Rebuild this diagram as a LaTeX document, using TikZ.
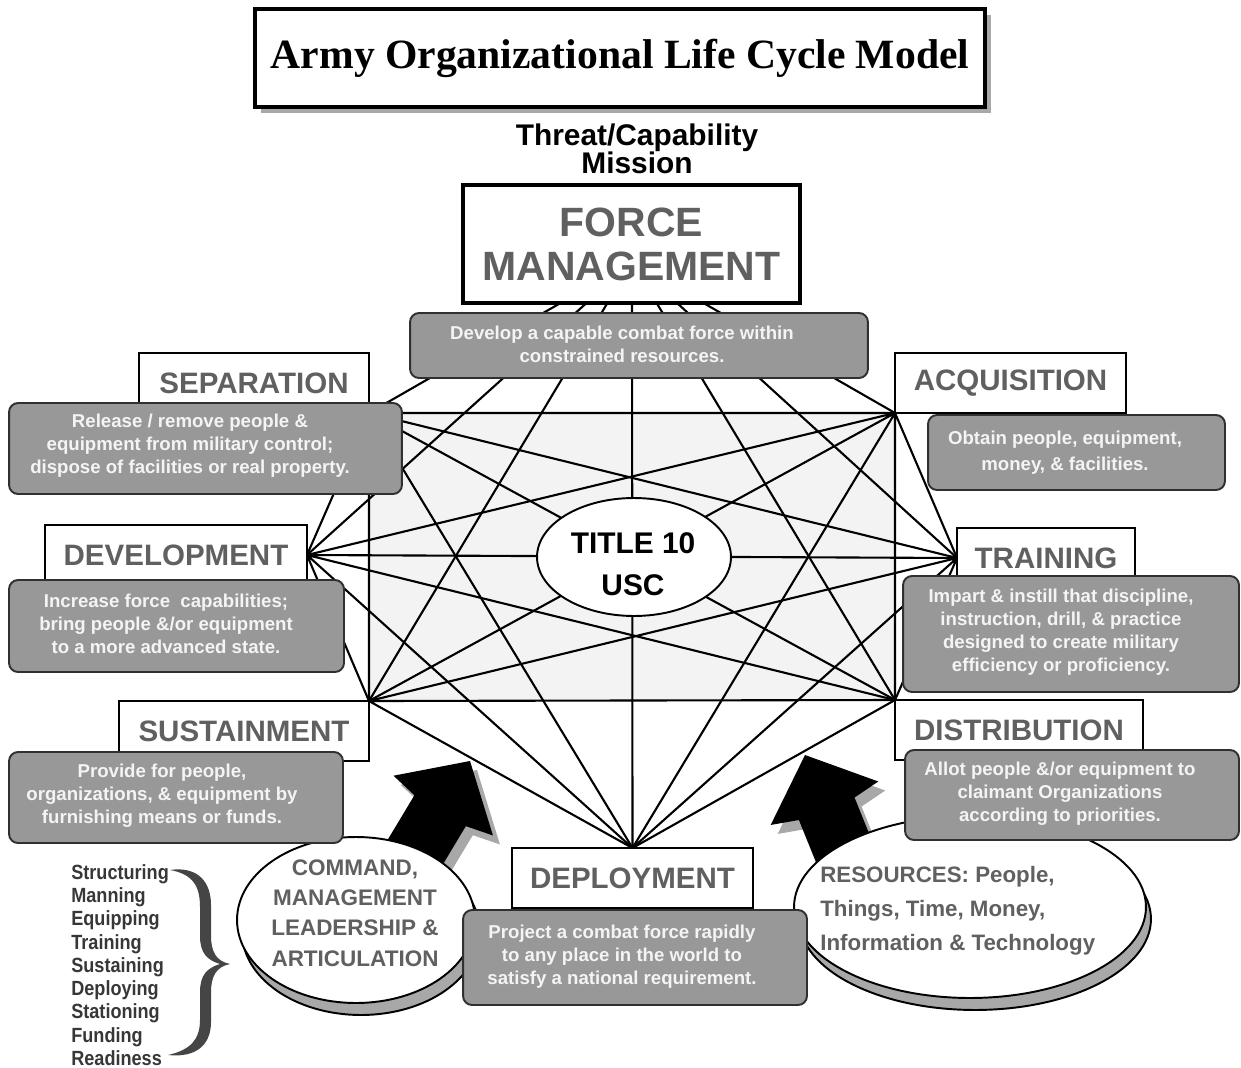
\documentclass[tikz,border=0pt]{standalone}
\usepackage{fontspec}
\setmainfont{Liberation Sans}
\newfontfamily\serifbold{Liberation Serif}
\newfontfamily\narrowsans[FakeStretch=0.88]{Liberation Sans}
\usepackage{tikz}
\usetikzlibrary{shapes.geometric,shadows}
\pgfdeclarelayer{background}
\pgfdeclarelayer{foreground}
\pgfsetlayers{background,main,foreground}

\definecolor{panelgray}{HTML}{989898}
\definecolor{labelgray}{HTML}{606060}
\definecolor{fieldgray}{HTML}{F3F3F3}
\definecolor{shadegray}{HTML}{A8A8A8}
\definecolor{bracegray}{HTML}{454545}
\definecolor{edgegray}{HTML}{303030}
\definecolor{notewhite}{HTML}{F4F4F4}

\tikzset{
  stagebox/.style={draw, line width=1.1pt, fill=white, text=labelgray, inner sep=0pt, outer sep=0pt,
    minimum height=1.2cm, font=\fontsize{16.8}{20}\selectfont\bfseries},
  notebox/.style={draw=edgegray, line width=1.1pt, fill=panelgray, rounded corners=0.18cm,
    inner sep=0pt, outer sep=0pt},
  notetext/.style={text=notewhite, align=center, inner sep=0pt,
    font=\fontsize{10.6}{13.1}\selectfont\bfseries},
  link/.style={line width=1.2pt},
  bubble/.style={ellipse, draw, line width=1.1pt, fill=white, inner sep=0pt,
    general shadow={shadow xshift=0.1cm, shadow yshift=-0.24cm, fill=shadegray, draw=black, line width=1.1pt}},
  bubbletext/.style={text=labelgray, inner sep=0pt, font=\fontsize{12.8}{17.2}\selectfont\bfseries},
  pics/bigarrow/.style={code={
    \fill[#1] (0,0) -- (-52,58) -- (-58,30) -- (-165,30) -- (-165,-30) -- (-58,-30) -- (-52,-58) -- cycle;
  }}
}

\begin{document}
\begin{tikzpicture}[x=0.02cm, y=-0.02cm]
\useasboundingbox (0,0) rectangle (1241,1068);
% heading
\node[draw, line width=2.2pt, fill=white, minimum width=14.6cm, minimum height=1.96cm, inner sep=0pt,
  drop shadow={shadow xshift=0.12cm, shadow yshift=-0.12cm, fill=shadegray, opacity=1},
  font=\serifbold\bfseries\fontsize{23.7}{26}\selectfont] (title) at (620,58) {Army Organizational Life Cycle Model};
\node[align=center, font=\fontsize{17}{16}\selectfont\bfseries] (mission) at (637,149) {Threat/Capability\\Mission};
% push arrows
\pic[rotate=59] at (477,770) {bigarrow=shadegray};
\pic[rotate=59] at (470,761) {bigarrow=black};
\pic[rotate=112] at (812,764) {bigarrow=shadegray};
\pic[rotate=112] at (805,755) {bigarrow=black};
% inputs
\node[bubble, minimum width=4.76cm, minimum height=3.32cm] (command) at (356,920) {};
\node[bubbletext, align=center] (commandtext) at (355,913) {COMMAND,\\MANAGEMENT\\LEADERSHIP \&\\ARTICULATION};
\node[bubble, minimum width=7.04cm, minimum height=3.64cm] (resources) at (970,907) {};
\node[bubbletext, align=left, anchor=west, font=\fontsize{12.7}{19.3}\selectfont\bfseries] (resourcestext) at (820,911) {RESOURCES: People,\\Things, Time, Money,\\Information \& Technology};
% hub
\node[draw, line width=2.2pt, fill=white, minimum width=6.74cm, minimum height=2.36cm, inner sep=0pt,
  text=labelgray, align=center, font=\fontsize{23.3}{25}\selectfont\bfseries] (force) at (631.5,244) {FORCE\\MANAGEMENT};
\node[ellipse, draw, line width=1.1pt, fill=white, minimum width=3.88cm, minimum height=2.36cm, inner sep=0pt] (core) at (634,557) {};
\node[align=center, inner sep=0pt, font=\fontsize{17}{24}\selectfont\bfseries] (coretext) at (633,564) {TITLE 10\\USC};
% stages
\node[stagebox, minimum width=4.6cm] (sep) at (254,383) {SEPARATION};
\node[stagebox, minimum width=4.62cm] (acq) at (1010.5,383) {ACQUISITION};
\node[stagebox, minimum width=5.24cm] (dev) at (176,555) {DEVELOPMENT};
\node[stagebox, minimum width=3.56cm] (trn) at (1046,558) {TRAINING};
\node[stagebox, minimum width=5.0cm] (sust) at (244,731) {SUSTAINMENT};
\node[stagebox, minimum width=4.96cm] (dist) at (1019,730) {DISTRIBUTION};
\node[stagebox, minimum width=4.82cm] (depl) at (632.5,878) {DEPLOYMENT};
% notes
\node[notebox, minimum width=9.16cm, minimum height=1.3cm] (forcedesc) at (639,345.5) {};
\node[notetext] (forcenote) at (622,344) {Develop a capable combat force within\\constrained resources.};
\node[notebox, minimum width=7.86cm, minimum height=1.82cm] (sepdesc) at (205.5,448.5) {};
\node[notetext] (sepnote) at (190,446) {Release / remove people \&\\equipment from military control;\\dispose of facilities or real property.};
\node[notebox, minimum width=5.94cm, minimum height=1.5cm] (acqdesc) at (1076.5,452.5) {};
\node[notetext, font=\fontsize{10.6}{14.8}\selectfont\bfseries] (acqnote) at (1065,453) {Obtain people, equipment,\\money, \& facilities.};
\node[notebox, minimum width=6.7cm, minimum height=1.84cm] (devdesc) at (176.5,626) {};
\node[notetext] (devnote) at (166,624) {Increase force\ \ capabilities;\\bring people \&/or equipment\\to a more advanced state.};
\node[notebox, minimum width=6.72cm, minimum height=2.32cm] (trndesc) at (1071,634) {};
\node[notetext] (trnnote) at (1061,632) {Impart \& instill that discipline,\\instruction, drill, \& practice\\designed to create military\\efficiency or proficiency.};
\node[notebox, minimum width=6.68cm, minimum height=1.82cm] (sustdesc) at (176,797.5) {};
\node[notetext] (sustnote) at (162,796) {Provide for people,\\organizations, \& equipment by\\furnishing means or funds.};
\node[notebox, minimum width=6.68cm, minimum height=1.8cm] (distdesc) at (1072,795) {};
\node[notetext] (distnote) at (1060,794) {Allot people \&/or equipment to\\claimant Organizations\\according to priorities.};
\node[notebox, minimum width=6.88cm, minimum height=1.9cm] (depldesc) at (635,957.5) {};
\node[notetext] (deplnote) at (622,957) {Project a combat force rapidly\\to any place in the world to\\satisfy a national requirement.};
% functions list
\node[anchor=west, align=left, inner sep=0pt, text=bracegray!80!black,
  font=\narrowsans\bfseries\fontsize{11.7}{13.25}\selectfont] (duties) at (71,965)
  {Structuring\\Manning\\Equipping\\Training\\Sustaining\\Deploying\\Stationing\\Funding\\Readiness};
\fill[bracegray] (170,870) .. controls (198,866) and (211,882) .. (211,905) -- (211,935)
  .. controls (211,952) and (216,961) .. (230,964) .. controls (216,967) and (211,976) .. (211,993)
  -- (211,1022) .. controls (211,1045) and (196,1058) .. (168,1055)
  .. controls (190,1050) and (200,1040) .. (200,1020) -- (200,992)
  .. controls (200,975) and (207,968) .. (220,964) .. controls (207,960) and (200,953) .. (200,936)
  -- (200,907) .. controls (200,885) and (192,874) .. (170,870) -- cycle;
% network
\coordinate (vfm) at (632,262);
\coordinate (vsep) at (sep.south east);
\coordinate (vacq) at (acq.south west);
\coordinate (vdev) at (dev.east);
\coordinate (vtrn) at (trn.west);
\coordinate (vsust) at (sust.north east);
\coordinate (vdist) at (dist.north west);
\coordinate (vdep) at (depl.north);
\begin{pgfonlayer}{background}
\fill[fieldgray] (vsep) rectangle (vdist);
\draw[link] (vfm) -- (vsep) (vfm) -- (vacq) (vfm) -- (vdev) (vfm) -- (vtrn) (vfm) -- (vsust) (vfm) -- (vdist) (vfm) -- (vdep);
\draw[link] (vsep) -- (vacq) (vsep) -- (vdev) (vsep) -- (vtrn) (vsep) -- (vsust) (vsep) -- (vdist) (vsep) -- (vdep);
\draw[link] (vacq) -- (vdev) (vacq) -- (vtrn) (vacq) -- (vsust) (vacq) -- (vdist) (vacq) -- (vdep);
\draw[link] (vdev) -- (vtrn) (vdev) -- (vsust) (vdev) -- (vdist) (vdev) -- (vdep);
\draw[link] (vtrn) -- (vsust) (vtrn) -- (vdist) (vtrn) -- (vdep);
\draw[link] (vsust) -- (vdist) (vsust) -- (vdep);
\draw[link] (vdist) -- (vdep);
\end{pgfonlayer}
\end{tikzpicture}
\end{document}
